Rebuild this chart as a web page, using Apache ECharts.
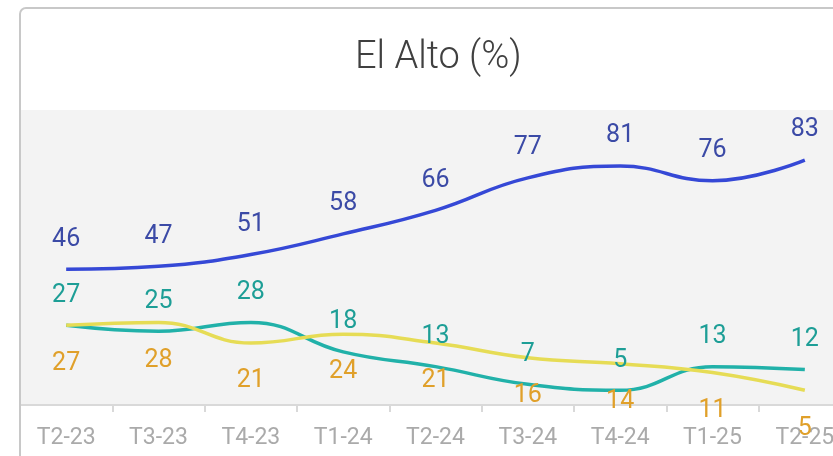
<!DOCTYPE html>
<html>
<head>
<meta charset="utf-8">
<script src="https://cdn.jsdelivr.net/npm/echarts@6/dist/echarts.min.js"></script>
<style>
  html, body { margin: 0; padding: 0; background: #fff; }
  #main { width: 833px; height: 456px; }
</style>
</head>
<body>
<div id="main"></div>
<script>
// quarters on the x axis
const categories = ['T2-23', 'T3-23', 'T4-23', 'T1-24', 'T2-24', 'T3-24', 'T4-24', 'T1-25', 'T2-25']
// series values (%)
const blueValues = [46, 47, 51, 58, 66, 77, 81, 76, 83]
const tealValues = [27, 25, 28, 18, 13, 7, 5, 13, 12]
const yellowValues = [27, 28, 21, 24, 21, 16, 14, 11, 5]

const chart = echarts.init(document.getElementById('main'))

function lineSeries(name, data, lineColor, labelColor, pos, dist) {
  return {
    name: name,
    type: 'line',
    data: data,
    smooth: 0.45,
    symbol: 'circle',
    symbolSize: 1,
    showSymbol: true,
    lineStyle: { color: lineColor, width: 3.5 },
    itemStyle: { color: 'rgba(0,0,0,0)' },
    label: {
      show: true,
      position: pos,
      distance: dist,
      color: labelColor,
      fontFamily: 'Roboto',
      fontSize: 25
    }
  }
}

const option = {
  animation: false,
  title: {
    text: 'El Alto (%)',
    left: 350,
    top: 34,
    textStyle: {
      fontFamily: 'Roboto',
      fontWeight: 300,
      fontSize: 38,
      color: '#404040'
    }
  },
  graphic: [
    {
      type: 'rect',
      shape: { x: 20, y: 8, width: 900, height: 520, r: 6 },
      style: { fill: 'none', stroke: '#c8c8c8', lineWidth: 2 },
      z: 100
    }
  ],
  grid: {
    left: 20,
    width: 831,
    top: 110,
    bottom: 51,
    outerBoundsMode: 'none',
    show: true,
    backgroundColor: '#f3f3f3',
    borderWidth: 0
  },
  xAxis: {
    type: 'category',
    data: categories,
    boundaryGap: true,
    axisLine: { lineStyle: { color: '#d9d9d9', width: 2 } },
    axisTick: { show: true, length: 7, lineStyle: { color: '#d9d9d9', width: 2 } },
    axisLabel: {
      color: '#aaaaaa',
      fontFamily: 'Roboto',
      fontSize: 23,
      margin: 22
    }
  },
  yAxis: {
    type: 'value',
    min: 0,
    max: 100,
    show: false,
    splitLine: { show: false }
  },
  series: [
    lineSeries('blue', blueValues, '#3548d6', '#3b4aa6', 'top', 17),
    lineSeries('teal', tealValues, '#21b1a9', '#1d9e96', 'top', 17),
    lineSeries('yellow', yellowValues, '#e6dc55', '#e0a02a', 'bottom', 25)
  ]
}

chart.setOption(option)
window.addEventListener('resize', () => chart.resize(), false)
</script>
</body>
</html>
